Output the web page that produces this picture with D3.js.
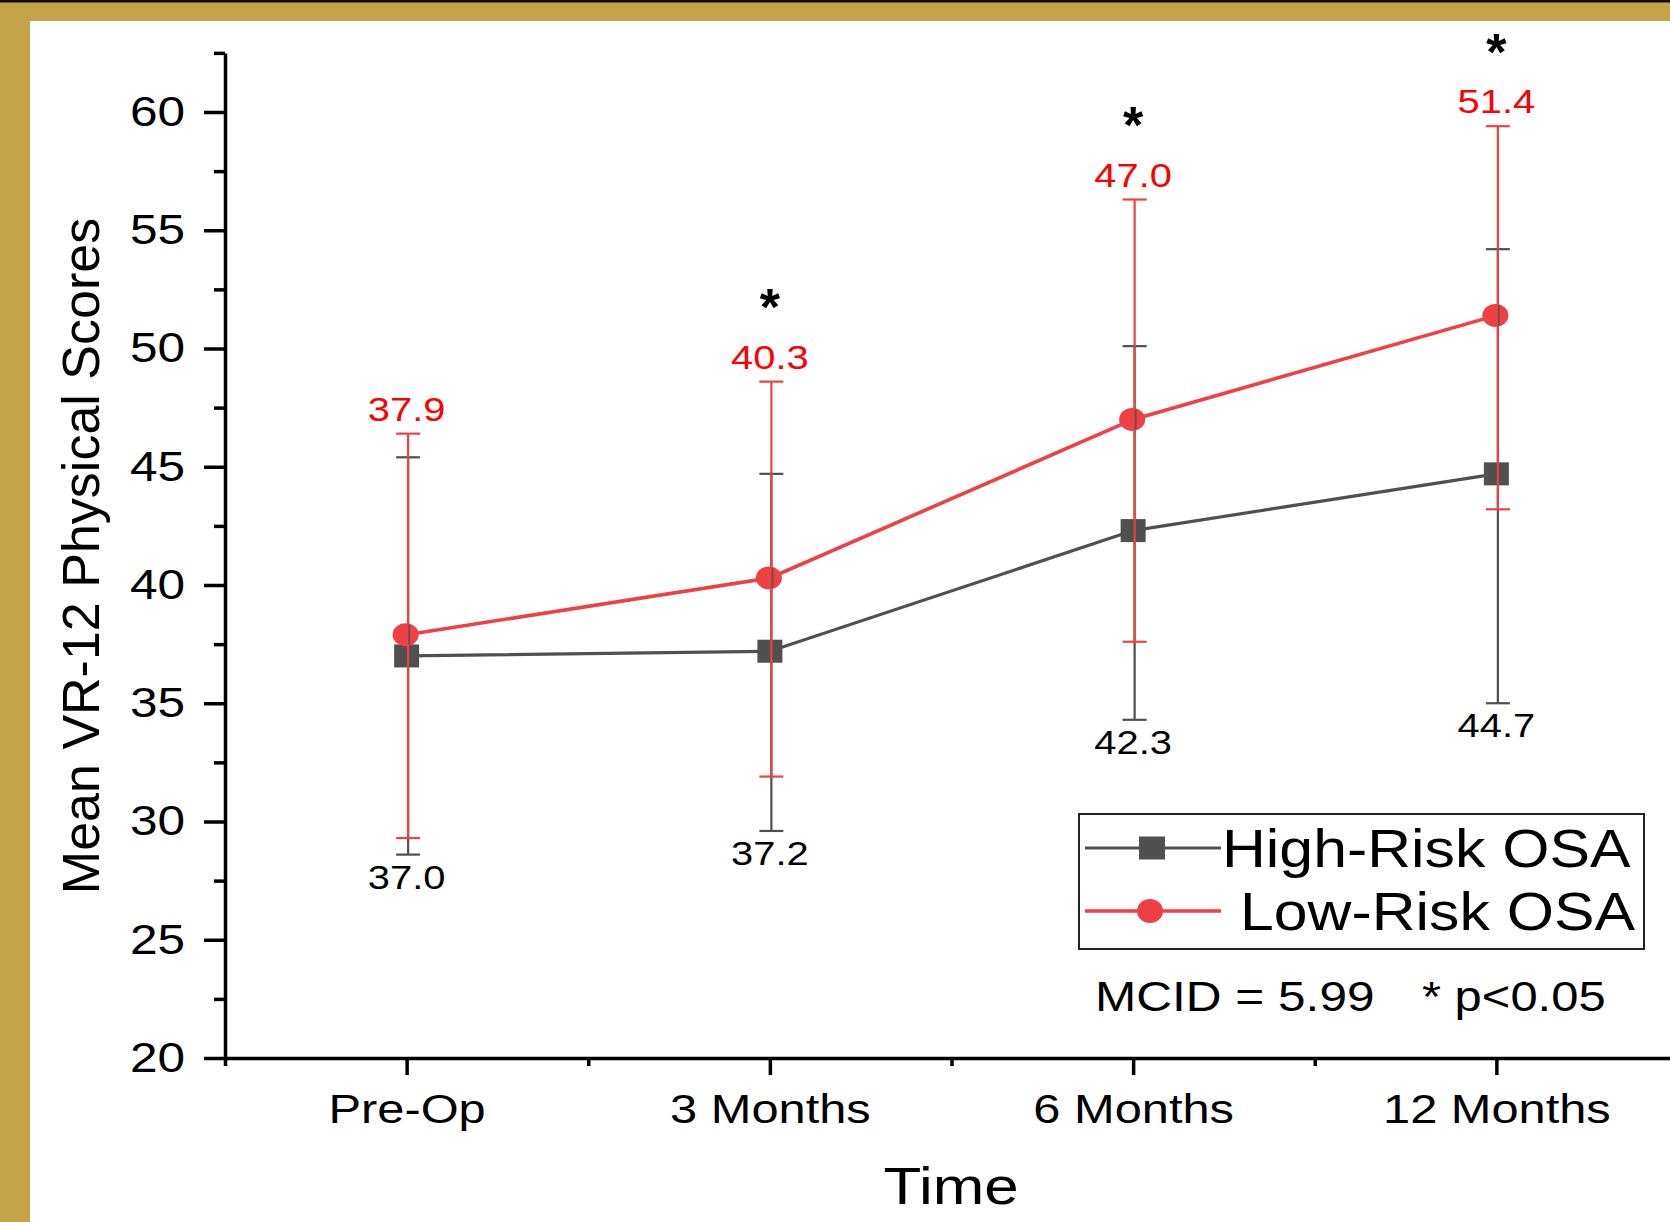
<!DOCTYPE html>
<html>
<head>
<meta charset="utf-8">
<script src="https://cdn.jsdelivr.net/npm/d3@7"></script>
<style>
  html, body { margin: 0; padding: 0; background: #fff; }
  svg { display: block; }
  text { font-family: "Liberation Sans", Arial, Helvetica, sans-serif; }
</style>
</head>
<body>
<script>
// ---------------- data ----------------
const categories = ["Pre-Op", "3 Months", "6 Months", "12 Months"];
const highMean  = [37.0, 37.2, 42.3, 44.7];
const highUpper = [45.4, 44.7, 50.1, 54.2];
const highLower = [28.6, 29.6, 34.3, 35.0];
const lowMean   = [37.9, 40.3, 47.0, 51.4];
const lowUpper  = [46.4, 48.6, 56.3, 59.4];
const lowLower  = [29.3, 31.9, 37.6, 43.2];
const significant = [false, true, true, true];
const yTicks = [20, 25, 30, 35, 40, 45, 50, 55, 60];
const yMinorTicks = [22.5, 27.5, 32.5, 37.5, 42.5, 47.5, 52.5, 57.5, 62.5];
const seriesNames = ["High-Risk OSA", "Low-Risk OSA"];
const noteMCID = "MCID = 5.99";
const noteP = "* p<0.05";

// ---------------- layout ----------------
const W = 1670, H = 1222;
const GRAY = "#505050", RED = "#EF4044", TEXTRED = "#FF0000";
const svg = d3.select("body").append("svg").attr("width", W).attr("height", H);

// frame
svg.append("rect").attr("width", W).attr("height", H).attr("fill", "#C5A34A");
svg.append("rect").attr("width", W).attr("height", 2.5).attr("fill", "#111");
svg.append("rect").attr("x", 30).attr("y", 21).attr("width", W - 30).attr("height", H - 21).attr("fill", "#fff");

const x = d3.scaleLinear().domain([0.5, 4.5]).range([225, 1678]);
const y = d3.scaleLinear().domain([20, 62.5]).range([1058, 1058 - 42.5 * 23.65]);

function sText(parent, px, py, str, size, fill, sx, anchor, weight) {
  return parent.append("text")
    .attr("transform", `translate(${px},${py}) scale(${sx},1)`)
    .attr("text-anchor", anchor || "middle")
    .attr("font-size", size)
    .attr("font-weight", weight || "normal")
    .attr("fill", fill)
    .text(str);
}

// ---------------- axes ----------------
const yAxisG = svg.append("g").attr("transform", "translate(225,0)")
  .call(d3.axisLeft(y).tickValues(yTicks).tickSize(21).tickSizeOuter(0).tickFormat(d3.format("d")));
yAxisG.select(".domain").attr("stroke", "#000").attr("stroke-width", 3.5);
yAxisG.selectAll(".tick line").attr("stroke", "#000").attr("stroke-width", 3.5);
yAxisG.selectAll(".tick text")
  .attr("x", -40 / 1.18).attr("transform", "scale(1.18,1)")
  .attr("font-size", 42).attr("fill", "#000")
  .style("font-family", '"Liberation Sans", Arial, sans-serif');

const yMinorG = svg.append("g").attr("transform", "translate(225,0)")
  .call(d3.axisLeft(y).tickValues(yMinorTicks).tickSize(11).tickFormat(""));
yMinorG.select(".domain").remove();
yMinorG.selectAll(".tick line").attr("stroke", "#000").attr("stroke-width", 3.5);

const xAxisG = svg.append("g").attr("transform", "translate(0,1058)")
  .call(d3.axisBottom(x).tickValues([1, 2, 3, 4]).tickSize(17).tickSizeOuter(0)
    .tickFormat(d => categories[d - 1]));
xAxisG.select(".domain").attr("stroke", "#000").attr("stroke-width", 3.5);
xAxisG.selectAll(".tick line").attr("stroke", "#000").attr("stroke-width", 3.5);
xAxisG.selectAll(".tick text")
  .attr("y", 65).attr("dy", 0).attr("transform", "scale(1.19,1)")
  .attr("font-size", 41).attr("fill", "#000")
  .style("font-family", '"Liberation Sans", Arial, sans-serif');

const xMinorG = svg.append("g").attr("transform", "translate(0,1058)")
  .call(d3.axisBottom(x).tickValues([0.5, 1.5, 2.5, 3.5]).tickSize(8).tickFormat(""));
xMinorG.select(".domain").remove();
xMinorG.selectAll(".tick line").attr("stroke", "#000").attr("stroke-width", 3.5);

// axis titles
sText(svg, 951, 1204, "Time", 52, "#000", 1.19, "middle");
svg.append("text")
  .attr("transform", "translate(99,556) rotate(-90)")
  .attr("text-anchor", "middle").attr("font-size", 52).attr("fill", "#000")
  .text("Mean VR-12 Physical Scores");

// ---------------- series ----------------
const line = d3.line().x((d, i) => x(i + 1)).y(d => y(d));
svg.append("path").datum(highMean).attr("d", line)
  .attr("fill", "none").attr("stroke", GRAY).attr("stroke-width", 3.2);
svg.append("path").datum(lowMean).attr("d", line)
  .attr("fill", "none").attr("stroke", RED).attr("stroke-width", 3.6);

// high-risk squares
svg.append("g").selectAll("rect").data(highMean).join("rect")
  .attr("x", (d, i) => x(i + 1) - 12.5).attr("y", d => y(d) - 11.5)
  .attr("width", 25).attr("height", 23).attr("fill", GRAY);

function errorBars(lower, upper, color, dx) {
  const g = svg.append("g").attr("stroke", color).attr("stroke-width", 2.2);
  lower.forEach((lo, i) => {
    const cx = x(i + 1) + dx;
    g.append("line").attr("x1", cx).attr("x2", cx).attr("y1", y(lo)).attr("y2", y(upper[i]));
    g.append("line").attr("x1", cx - 12).attr("x2", cx + 12).attr("y1", y(lo)).attr("y2", y(lo));
    g.append("line").attr("x1", cx - 12).attr("x2", cx + 12).attr("y1", y(upper[i])).attr("y2", y(upper[i]));
  });
}
errorBars(highLower, highUpper, GRAY, 1.5);
errorBars(lowLower, lowUpper, RED, 1.5);

// low-risk circles
svg.append("g").selectAll("ellipse").data(lowMean).join("ellipse")
  .attr("cx", (d, i) => x(i + 1) - 1).attr("cy", d => y(d))
  .attr("rx", 13).attr("ry", 11.5).attr("fill", RED);

// gray bar segment visible through red circles
svg.append("g").selectAll("line").data(lowMean).join("line")
  .attr("x1", (d, i) => x(i + 1) + 2.5).attr("x2", (d, i) => x(i + 1) + 2.5)
  .attr("y1", d => y(d) - 10).attr("y2", d => y(d) + 10)
  .attr("stroke", GRAY).attr("stroke-width", 2).attr("opacity", 0.8);

// ---------------- value labels ----------------
const fmt = d3.format(".1f");
lowMean.forEach((v, i) => {
  sText(svg, x(i + 1), y(lowUpper[i]) - 13, fmt(v), 33.5, TEXTRED, 1.19, "middle");
  if (significant[i]) {
    sText(svg, x(i + 1), y(lowUpper[i]) - 80 + 23.5, "*", 52, "#000", 1.0, "middle", "bold");
  }
});
highMean.forEach((v, i) => {
  sText(svg, x(i + 1), y(highLower[i]) + 34, fmt(v), 33.5, "#000", 1.19, "middle");
});

// ---------------- legend ----------------
const lg = svg.append("g");
lg.append("rect").attr("x", 1079).attr("y", 814).attr("width", 565).attr("height", 135)
  .attr("fill", "#fff").attr("stroke", "#222").attr("stroke-width", 2);
lg.append("line").attr("x1", 1085).attr("x2", 1221).attr("y1", 848).attr("y2", 848)
  .attr("stroke", GRAY).attr("stroke-width", 3.2);
lg.append("rect").attr("x", 1152 - 13).attr("y", 848 - 11.5).attr("width", 26).attr("height", 23).attr("fill", GRAY);
lg.append("line").attr("x1", 1085).attr("x2", 1221).attr("y1", 911).attr("y2", 911)
  .attr("stroke", RED).attr("stroke-width", 3.6);
lg.append("ellipse").attr("cx", 1150).attr("cy", 911).attr("rx", 13).attr("ry", 12).attr("fill", RED);
sText(lg, 1222, 867, seriesNames[0], 54, "#000", 1.125, "start");
sText(lg, 1240, 930, seriesNames[1], 54, "#000", 1.125, "start");

// notes
sText(svg, 1095, 1011, noteMCID, 42, "#000", 1.18, "start");
sText(svg, 1422, 1011, noteP, 42, "#000", 1.165, "start");
</script>
</body>
</html>
